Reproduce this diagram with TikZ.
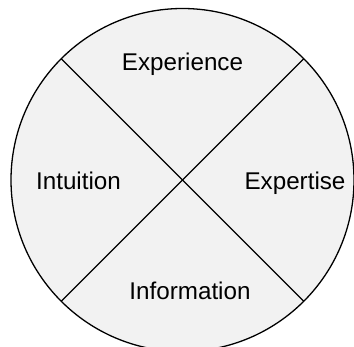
\documentclass[tikz,border=0pt]{standalone}
\usepackage{fontspec}
\setmainfont{Liberation Sans}
\usetikzlibrary{calc}
\begin{document}
\begin{tikzpicture}[x=1pt,y=-1pt,
  ring/.style={draw=black, line width=1.3pt, fill=black!5},
  divider/.style={draw=black, line width=1.3pt},
  label/.style={anchor=base, inner sep=0pt, font=\fontsize{24.2}{28}\selectfont}]
  \useasboundingbox (0,0) rectangle (354,347);
  % outer disc
  \coordinate (c) at (182.5,180);
  \draw[ring] (c) circle[radius=171.5];
  % chord end points on the rim at 45 degrees
  \coordinate (nw) at ($(c)+(-121.3,-121.3)$);
  \coordinate (ne) at ($(c)+(121.3,-121.3)$);
  \coordinate (sw) at ($(c)+(-121.3,121.3)$);
  \coordinate (se) at ($(c)+(121.3,121.3)$);
  \draw[divider] (nw) -- (se);
  \draw[divider] (ne) -- (sw);
  % quadrant labels
  \node[label] (exp) at (182.5,71) {Experience};
  \node[label] (int) at (78.5,190) {Intuition};
  \node[label] (ext) at (295,190) {Expertise};
  \node[label] (inf) at (190,300) {Information};
\end{tikzpicture}
\end{document}
